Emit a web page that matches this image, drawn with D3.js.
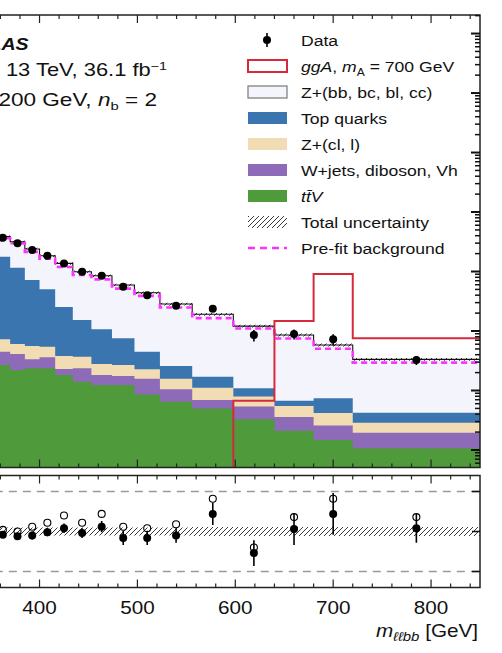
<!DOCTYPE html>
<html>
<head>
<meta charset="utf-8">
<script src="https://cdn.jsdelivr.net/npm/d3@7"></script>
<style>
  html, body { margin: 0; padding: 0; background: #fff; }
  svg { display: block; }
  text { font-family: "Liberation Sans", Arial, Helvetica, sans-serif; fill: #111; }
</style>
</head>
<body>
<svg id="chart" width="502" height="653"></svg>
<script>
// ---- binning (GeV) ----
const binEdges = [355, 370, 385, 400, 416, 434, 453, 474, 497, 523, 556, 598, 640, 680, 720, 850];

// ---- observed events per GeV ----
const dataValues = [37.0, 29.8, 23.0, 18.4, 13.7, 9.93, 8.50, 5.55, 3.98, 2.66, 2.37, 0.857, 0.890, 0.725, 0.325];

// ---- post-fit background components (events per GeV) ----
const ttV          = [0.268, 0.221, 0.236, 0.236, 0.182, 0.141, 0.124, 0.124, 0.086, 0.065, 0.050, 0.033, 0.021, 0.0147, 0.0107];
const wjetsVV      = [0.181, 0.190, 0.099, 0.125, 0.048, 0.095, 0.058, 0.051, 0.072, 0.040, 0.019, 0.021, 0.015, 0.011, 0.0088];
const zLight       = [0.276, 0.194, 0.226, 0.184, 0.150, 0.134, 0.097, 0.093, 0.069, 0.053, 0.042, 0.025, 0.019, 0.016, 0.0093];
const topQuarks    = [17.0, 10.98, 6.64, 4.47, 2.15, 1.16, 0.79, 0.486, 0.222, 0.100, 0.059, 0.030, 0.0125, 0.0325, 0.0135];
const zHeavy       = [20.8, 20.1, 16.7, 13.4, 11.2, 8.40, 7.43, 5.18, 3.95, 2.58, 1.74, 1.10, 0.79, 0.508, 0.292];

// ---- pre-fit total background ----
const prefitTotal  = [36.2, 29.8, 21.4, 16.4, 11.9, 8.76, 7.38, 5.15, 3.89, 2.48, 1.65, 1.10, 0.748, 0.503, 0.294];

// ---- ggA signal, m_A = 700 GeV ----
const signalGgA    = [0, 0, 0, 0, 0, 0, 0, 0, 0, 0, 0, 0.0674, 1.472, 9.08, 0.754];

// ---- relative total background uncertainty ----
const bkgRelUnc    = [0.05, 0.05, 0.05, 0.05, 0.05, 0.05, 0.05, 0.05, 0.05, 0.05, 0.055, 0.055, 0.055, 0.055, 0.055];

// ---- ratio panel ----
const ratioPostfit = [0.96, 0.94, 0.95, 0.99, 1.04, 0.98, 1.06, 0.92, 0.92, 0.95, 1.22, 0.73, 1.03, 1.22, 1.04];
const ratioPrefit  = [1.02, 1.00, 1.06, 1.11, 1.20, 1.11, 1.22, 1.06, 1.04, 1.09, 1.41, 0.80, 1.18, 1.41, 1.18];
const ratioErr     = [0.04, 0.04, 0.05, 0.05, 0.06, 0.06, 0.07, 0.09, 0.09, 0.09, 0.14, 0.16, 0.20, 0.26, 0.18];
const ratioRefLines = [0.5, 1.5];

// ---- axis ticks ----
const xMajorTicks = [400, 500, 600, 700, 800];
const xTickStep = 20;

// ---- colours ----
const colors = {
  zHeavy: "#f4f5fc",
  top: "#3b75af",
  zLight: "#f1dcb3",
  wjets: "#8e6bb8",
  ttV: "#4f9a3b",
  signal: "#d62a3c",
  prefit: "#ff33ff"
};

const svg = d3.select("#chart");
const defs = svg.append("defs");

// hatch for the uncertainty band
const hatch = defs.append("pattern")
  .attr("id", "hatch").attr("patternUnits", "userSpaceOnUse")
  .attr("width", 5).attr("height", 5);
hatch.append("path").attr("d", "M0,5 L5,0 M-1,1 L1,-1 M4,6 L6,4")
  .attr("stroke", "#222").attr("stroke-width", 0.9);

// ---- scales ----
const x = d3.scaleLinear().domain([340, 850]).range([-19.2, 480]);
const yTop = d3.scaleLog().domain([0.00508, 2.05e5]).range([467.5, 15]);
const yRat = d3.scaleLinear().domain([0.3, 1.7]).range([587.5, 475.5]);

const panelTop = { t: 15, b: 467.5 };
const panelBot = { t: 475.5, b: 587.5 };
const xL = x.range()[0], xR = x.range()[1];

defs.append("clipPath").attr("id", "clipTop").append("rect")
  .attr("x", xL).attr("y", panelTop.t).attr("width", xR - xL).attr("height", panelTop.b - panelTop.t);
defs.append("clipPath").attr("id", "clipBot").append("rect")
  .attr("x", xL).attr("y", panelBot.t).attr("width", xR - xL).attr("height", panelBot.b - panelBot.t);

const yv = v => (v > 0 ? yTop(v) : panelTop.b + 20);

// step points (two per bin)
function stepPts(vals) {
  const pts = [];
  vals.forEach((v, i) => {
    pts.push({ x: binEdges[i], v });
    pts.push({ x: binEdges[i + 1], v });
  });
  return pts;
}
const stepLine = d3.line().x(d => x(d.x)).y(d => yv(d.v));

// ---- upper panel ----
const gTop = svg.append("g").attr("clip-path", "url(#clipTop)");

const components = [
  { vals: ttV, color: colors.ttV },
  { vals: wjetsVV, color: colors.wjets },
  { vals: zLight, color: colors.zLight },
  { vals: topQuarks, color: colors.top },
  { vals: zHeavy, color: colors.zHeavy }
];
const cum = [];
components.forEach((c, k) => {
  cum.push(c.vals.map((v, i) => v + (k ? cum[k - 1][i] : 0)));
});
const total = cum[cum.length - 1];

const area = d3.area().x(d => x(d.x)).y0(panelTop.b + 20).y1(d => yv(d.v));
for (let k = components.length - 1; k >= 0; k--) {
  gTop.append("path").attr("d", area(stepPts(cum[k])))
    .attr("fill", components[k].color).attr("stroke", "none");
}

// uncertainty band around the total
const bandPts = [];
total.forEach((v, i) => {
  bandPts.push({ x: binEdges[i], lo: v * (1 - bkgRelUnc[i]), hi: v * (1 + bkgRelUnc[i]) });
  bandPts.push({ x: binEdges[i + 1], lo: v * (1 - bkgRelUnc[i]), hi: v * (1 + bkgRelUnc[i]) });
});
gTop.append("path")
  .attr("d", d3.area().x(d => x(d.x)).y0(d => yTop(d.lo)).y1(d => yTop(d.hi))(bandPts))
  .attr("fill", "url(#hatch)");
gTop.append("path").attr("d", stepLine(stepPts(total)))
  .attr("fill", "none").attr("stroke", "#111").attr("stroke-width", 1.1);

// pre-fit background
gTop.append("path").attr("d", stepLine(stepPts(prefitTotal)))
  .attr("fill", "none").attr("stroke", colors.prefit)
  .attr("stroke-width", 2.6).attr("stroke-dasharray", "6,4");

// signal
gTop.append("path").attr("d", stepLine(stepPts(signalGgA)))
  .attr("fill", "none").attr("stroke", colors.signal).attr("stroke-width", 2);

// data
const centers = binEdges.slice(0, -1).map((e, i) => (e + binEdges[i + 1]) / 2);
const gData = gTop.append("g");
dataValues.forEach((v, i) => {
  const rel = ratioErr[i] / ratioPostfit[i];
  gData.append("line")
    .attr("x1", x(centers[i])).attr("x2", x(centers[i]))
    .attr("y1", yTop(v * (1 + rel))).attr("y2", yTop(v * (1 - rel)))
    .attr("stroke", "#000").attr("stroke-width", 1.6);
  gData.append("circle").attr("cx", x(centers[i])).attr("cy", yTop(v)).attr("r", 4).attr("fill", "#000");
});

// ---- lower panel ----
const gBot = svg.append("g").attr("clip-path", "url(#clipBot)");
const ratBand = [];
bkgRelUnc.forEach((u, i) => {
  ratBand.push({ x: binEdges[i], u });
  ratBand.push({ x: binEdges[i + 1], u });
});
gBot.append("path")
  .attr("d", d3.area().x(d => x(d.x)).y0(d => yRat(1 - d.u)).y1(d => yRat(1 + d.u))(ratBand))
  .attr("fill", "url(#hatch)");
ratioRefLines.forEach(r => {
  gBot.append("line").attr("x1", xL).attr("x2", xR)
    .attr("y1", yRat(r)).attr("y2", yRat(r))
    .attr("stroke", "#999").attr("stroke-width", 1.6).attr("stroke-dasharray", "8,6");
});
ratioPostfit.forEach((r, i) => {
  const cx = x(centers[i]);
  gBot.append("line").attr("x1", cx).attr("x2", cx)
    .attr("y1", yRat(r + ratioErr[i])).attr("y2", yRat(r - ratioErr[i]))
    .attr("stroke", "#000").attr("stroke-width", 1.6);
  gBot.append("circle").attr("cx", cx).attr("cy", yRat(ratioPrefit[i])).attr("r", 3.5)
    .attr("fill", "none").attr("stroke", "#000").attr("stroke-width", 1.1);
  gBot.append("circle").attr("cx", cx).attr("cy", yRat(r)).attr("r", 4).attr("fill", "#000");
});

// ---- frames and ticks ----
function frame(p) {
  svg.append("rect").attr("x", xL).attr("y", p.t).attr("width", xR - xL).attr("height", p.b - p.t)
    .attr("fill", "none").attr("stroke", "#222").attr("stroke-width", 1.5);
}
frame(panelTop);
frame(panelBot);

function xTicks(p) {
  const g = svg.append("g").attr("stroke", "#222").attr("stroke-width", 1.2);
  for (let v = 340 + xTickStep; v < 850; v += xTickStep) {
    const len = xMajorTicks.includes(v) || v % 100 === 0 ? 8 : 4;
    const px = x(v);
    g.append("line").attr("x1", px).attr("x2", px).attr("y1", p.t).attr("y2", p.t + len);
    g.append("line").attr("x1", px).attr("x2", px).attr("y1", p.b).attr("y2", p.b - len);
  }
}
xTicks(panelTop);
xTicks(panelBot);

// right log ticks of the upper panel
const gY = svg.append("g").attr("stroke", "#111");
const [yMin, yMax] = yTop.domain();
for (let k = -3; k <= 6; k++) {
  for (let m = 1; m <= 9; m++) {
    const v = m * Math.pow(10, k);
    if (v < yMin || v > yMax) continue;
    const len = m === 1 ? 9 : 5;
    gY.append("line").attr("x1", xR - len).attr("x2", xR)
      .attr("y1", yTop(v)).attr("y2", yTop(v)).attr("stroke-width", m === 1 ? 2 : 1.5);
  }
}
// right ticks of the ratio panel
[0.5, 1, 1.5].forEach(r => {
  gY.append("line").attr("x1", xR - 8).attr("x2", xR).attr("y1", yRat(r)).attr("y2", yRat(r)).attr("stroke-width", 1.5);
});

// ---- text helper: slightly widened type ----
function label(px, py, size, anchor, sx) {
  return svg.append("text")
    .attr("transform", `translate(${px},${py}) scale(${sx || 1.15},1)`)
    .attr("font-size", size).attr("text-anchor", anchor || "start");
}

// x tick labels
xMajorTicks.forEach(v => {
  label(x(v), 614, 18, "middle").text(v);
});

// x-axis title
const xt = label(478, 637, 18, "end");
xt.append("tspan").attr("font-style", "italic").text("m");
xt.append("tspan").attr("font-style", "italic").attr("font-size", 13).attr("dy", 4).text("ℓℓbb");
xt.append("tspan").attr("dy", -4).text(" [GeV]");

// experiment labels
label(28.5, 50, 17, "end").attr("font-weight", "bold").attr("font-style", "italic").text("ATLAS");
const l2 = label(167, 76, 17.5, "end", 1.25);
l2.append("tspan").text("√s = 13 TeV, 36.1 fb");
l2.append("tspan").attr("font-size", 11.5).attr("dy", -6).text("−1");
const l3 = label(157, 106, 17.5, "end", 1.29);
l3.append("tspan").attr("font-style", "italic").text("m");
l3.append("tspan").attr("font-size", 11.5).attr("dy", 4).text("H");
l3.append("tspan").attr("dy", -4).text(" = 200 GeV, ");
l3.append("tspan").attr("font-style", "italic").text("n");
l3.append("tspan").attr("font-size", 11.5).attr("dy", 4).text("b");
l3.append("tspan").attr("dy", -4).text(" = 2");

// ---- legend ----
const legY0 = 40, legDy = 26, boxX = 248, boxW = 39, boxH = 12, txtX = 301;
const legend = [
  { type: "data" },
  { type: "box", fill: "#fff", stroke: colors.signal, sw: 2 },
  { type: "box", fill: colors.zHeavy, stroke: "#777", sw: 1.2 },
  { type: "box", fill: colors.top },
  { type: "box", fill: colors.zLight },
  { type: "box", fill: colors.wjets },
  { type: "box", fill: colors.ttV },
  { type: "box", fill: "url(#hatch)" },
  { type: "dash" }
];
const legendText = [
  [["Data"]],
  [["ggA", "i"], [", "], ["m", "i"], ["A", "sub"], [" = 700 GeV"]],
  [["Z+(bb, bc, bl, cc)"]],
  [["Top quarks"]],
  [["Z+(cl, l)"]],
  [["W+jets, diboson, Vh"]],
  [["tt\u0304V", "i"]],
  [["Total uncertainty"]],
  [["Pre-fit background"]]
];
legend.forEach((e, i) => {
  const cy = legY0 + i * legDy;
  if (e.type === "data") {
    svg.append("line").attr("x1", 267).attr("x2", 267).attr("y1", cy - 7).attr("y2", cy + 7)
      .attr("stroke", "#000").attr("stroke-width", 1.6);
    svg.append("circle").attr("cx", 267).attr("cy", cy).attr("r", 4).attr("fill", "#000");
  } else if (e.type === "box") {
    svg.append("rect").attr("x", boxX).attr("y", cy - boxH / 2).attr("width", boxW).attr("height", boxH)
      .attr("fill", e.fill).attr("stroke", e.stroke || "none").attr("stroke-width", e.sw || 0);
  } else {
    svg.append("line").attr("x1", boxX).attr("x2", boxX + boxW).attr("y1", cy).attr("y2", cy)
      .attr("stroke", colors.prefit).attr("stroke-width", 2.6).attr("stroke-dasharray", "7,5");
  }
  const t = label(txtX, cy + 5.5, 15.3);
  let lowered = false;
  legendText[i].forEach(([s, f]) => {
    const sp = t.append("tspan").text(s);
    if (f === "i") sp.attr("font-style", "italic");
    if (f === "sub") { sp.attr("font-size", 10.5).attr("dy", 4); lowered = true; }
    else if (lowered) { sp.attr("dy", -4); lowered = false; }
  });
});
</script>
</body>
</html>
